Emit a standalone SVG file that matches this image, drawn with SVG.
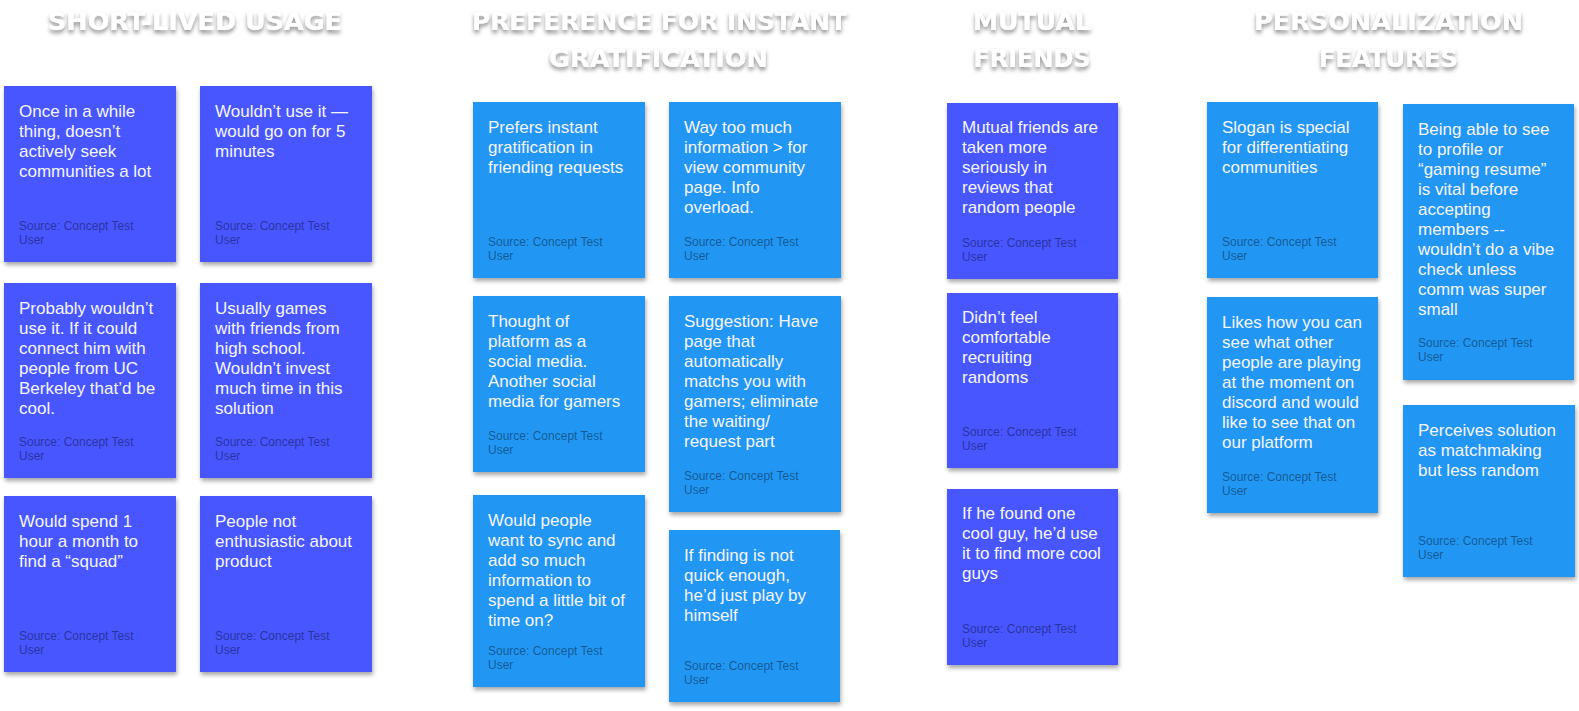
<svg xmlns="http://www.w3.org/2000/svg" width="1579" height="711" viewBox="0 0 1579 711">
<defs>
<filter id="sh" x="-10%" y="-10%" width="125%" height="125%">
<feDropShadow dx="1" dy="3" stdDeviation="2" flood-color="#000" flood-opacity="0.35"/>
</filter>
<filter id="hs" x="-10%" y="-30%" width="120%" height="180%">
<feDropShadow dx="0" dy="3" stdDeviation="2" flood-color="#000" flood-opacity="0.45"/>
</filter>
</defs>
<style>
.bg{fill:#ffffff}
.dk{fill:#4657FF}
.lt{fill:#2196F3}
.t{font-family:"Liberation Sans",Arial,sans-serif;font-size:17px;fill:#f5f5ff}
.s{font-family:"Liberation Sans",Arial,sans-serif;font-size:12px;fill:#000;fill-opacity:0.42}
.h{font-family:"DejaVu Sans",sans-serif;font-weight:bold;font-size:25px;fill:#ffffff;text-anchor:middle;filter:url(#hs)}
</style>
<rect class="bg" x="0" y="0" width="1579" height="711"/>

<g id="headers">
<text class="h" x="195" y="30" textLength="294" lengthAdjust="spacingAndGlyphs">SHORT-LIVED USAGE</text>
<text class="h" x="659.5" y="30" textLength="375" lengthAdjust="spacingAndGlyphs">PREFERENCE FOR INSTANT</text>
<text class="h" x="658.5" y="67" textLength="219" lengthAdjust="spacingAndGlyphs">GRATIFICATION</text>
<text class="h" x="1032" y="30" textLength="118" lengthAdjust="spacingAndGlyphs">MUTUAL</text>
<text class="h" x="1032" y="67" textLength="117" lengthAdjust="spacingAndGlyphs">FRIENDS</text>
<text class="h" x="1388.5" y="30" textLength="269" lengthAdjust="spacingAndGlyphs">PERSONALIZATION</text>
<text class="h" x="1388.5" y="67" textLength="139" lengthAdjust="spacingAndGlyphs">FEATURES</text>
</g>

<g id="connectors"></g>

<g id="a1"><rect class="dk" x="4" y="86" width="172" height="176" filter="url(#sh)"/>
<text class="t" x="19" y="117"><tspan x="19">Once in a while</tspan><tspan x="19" dy="20">thing, doesn’t</tspan><tspan x="19" dy="20">actively seek</tspan><tspan x="19" dy="20">communities a lot</tspan></text>
<text class="s" x="19" y="230"><tspan x="19">Source: Concept Test</tspan><tspan x="19" dy="14">User</tspan></text></g>

<g id="b1"><rect class="dk" x="200" y="86" width="172" height="176" filter="url(#sh)"/>
<text class="t" x="215" y="117"><tspan x="215">Wouldn’t use it —</tspan><tspan x="215" dy="20">would go on for 5</tspan><tspan x="215" dy="20">minutes</tspan></text>
<text class="s" x="215" y="230"><tspan x="215">Source: Concept Test</tspan><tspan x="215" dy="14">User</tspan></text></g>

<g id="a2"><rect class="dk" x="4" y="283" width="172" height="195" filter="url(#sh)"/>
<text class="t" x="19" y="314"><tspan x="19">Probably wouldn’t</tspan><tspan x="19" dy="20">use it. If it could</tspan><tspan x="19" dy="20">connect him with</tspan><tspan x="19" dy="20">people from UC</tspan><tspan x="19" dy="20">Berkeley that’d be</tspan><tspan x="19" dy="20">cool.</tspan></text>
<text class="s" x="19" y="446"><tspan x="19">Source: Concept Test</tspan><tspan x="19" dy="14">User</tspan></text></g>

<g id="b2"><rect class="dk" x="200" y="283" width="172" height="195" filter="url(#sh)"/>
<text class="t" x="215" y="314"><tspan x="215">Usually games</tspan><tspan x="215" dy="20">with friends from</tspan><tspan x="215" dy="20">high school.</tspan><tspan x="215" dy="20">Wouldn’t invest</tspan><tspan x="215" dy="20">much time in this</tspan><tspan x="215" dy="20">solution</tspan></text>
<text class="s" x="215" y="446"><tspan x="215">Source: Concept Test</tspan><tspan x="215" dy="14">User</tspan></text></g>

<g id="a3"><rect class="dk" x="4" y="496" width="172" height="176" filter="url(#sh)"/>
<text class="t" x="19" y="527"><tspan x="19">Would spend 1</tspan><tspan x="19" dy="20">hour a month to</tspan><tspan x="19" dy="20">find a “squad”</tspan></text>
<text class="s" x="19" y="640"><tspan x="19">Source: Concept Test</tspan><tspan x="19" dy="14">User</tspan></text></g>

<g id="b3"><rect class="dk" x="200" y="496" width="172" height="176" filter="url(#sh)"/>
<text class="t" x="215" y="527"><tspan x="215">People not</tspan><tspan x="215" dy="20">enthusiastic about</tspan><tspan x="215" dy="20">product</tspan></text>
<text class="s" x="215" y="640"><tspan x="215">Source: Concept Test</tspan><tspan x="215" dy="14">User</tspan></text></g>

<g id="c1"><rect class="lt" x="473" y="102" width="172" height="176" filter="url(#sh)"/>
<text class="t" x="488" y="133"><tspan x="488">Prefers instant</tspan><tspan x="488" dy="20">gratification in</tspan><tspan x="488" dy="20">friending requests</tspan></text>
<text class="s" x="488" y="246"><tspan x="488">Source: Concept Test</tspan><tspan x="488" dy="14">User</tspan></text></g>

<g id="d1"><rect class="lt" x="669" y="102" width="172" height="176" filter="url(#sh)"/>
<text class="t" x="684" y="133"><tspan x="684">Way too much</tspan><tspan x="684" dy="20">information &gt; for</tspan><tspan x="684" dy="20">view community</tspan><tspan x="684" dy="20">page. Info</tspan><tspan x="684" dy="20">overload.</tspan></text>
<text class="s" x="684" y="246"><tspan x="684">Source: Concept Test</tspan><tspan x="684" dy="14">User</tspan></text></g>

<g id="c2"><rect class="lt" x="473" y="296" width="172" height="176" filter="url(#sh)"/>
<text class="t" x="488" y="327"><tspan x="488">Thought of</tspan><tspan x="488" dy="20">platform as a</tspan><tspan x="488" dy="20">social media.</tspan><tspan x="488" dy="20">Another social</tspan><tspan x="488" dy="20">media for gamers</tspan></text>
<text class="s" x="488" y="440"><tspan x="488">Source: Concept Test</tspan><tspan x="488" dy="14">User</tspan></text></g>

<g id="d2"><rect class="lt" x="669" y="296" width="172" height="216" filter="url(#sh)"/>
<text class="t" x="684" y="327"><tspan x="684">Suggestion: Have</tspan><tspan x="684" dy="20">page that</tspan><tspan x="684" dy="20">automatically</tspan><tspan x="684" dy="20">matchs you with</tspan><tspan x="684" dy="20">gamers; eliminate</tspan><tspan x="684" dy="20">the waiting/</tspan><tspan x="684" dy="20">request part</tspan></text>
<text class="s" x="684" y="480"><tspan x="684">Source: Concept Test</tspan><tspan x="684" dy="14">User</tspan></text></g>

<g id="c3"><rect class="lt" x="473" y="495" width="172" height="192" filter="url(#sh)"/>
<text class="t" x="488" y="526"><tspan x="488">Would people</tspan><tspan x="488" dy="20">want to sync and</tspan><tspan x="488" dy="20">add so much</tspan><tspan x="488" dy="20">information to</tspan><tspan x="488" dy="20">spend a little bit of</tspan><tspan x="488" dy="20">time on?</tspan></text>
<text class="s" x="488" y="655"><tspan x="488">Source: Concept Test</tspan><tspan x="488" dy="14">User</tspan></text></g>

<g id="d3"><rect class="lt" x="669" y="530" width="171" height="172" filter="url(#sh)"/>
<text class="t" x="684" y="561"><tspan x="684">If finding is not</tspan><tspan x="684" dy="20">quick enough,</tspan><tspan x="684" dy="20">he’d just play by</tspan><tspan x="684" dy="20">himself</tspan></text>
<text class="s" x="684" y="670"><tspan x="684">Source: Concept Test</tspan><tspan x="684" dy="14">User</tspan></text></g>

<g id="e1"><rect class="dk" x="947" y="103" width="171" height="176" filter="url(#sh)"/>
<text class="t" x="962" y="133"><tspan x="962">Mutual friends are</tspan><tspan x="962" dy="20">taken more</tspan><tspan x="962" dy="20">seriously in</tspan><tspan x="962" dy="20">reviews that</tspan><tspan x="962" dy="20">random people</tspan></text>
<text class="s" x="962" y="247"><tspan x="962">Source: Concept Test</tspan><tspan x="962" dy="14">User</tspan></text></g>

<g id="e2"><rect class="dk" x="947" y="293" width="171" height="175" filter="url(#sh)"/>
<text class="t" x="962" y="323"><tspan x="962">Didn’t feel</tspan><tspan x="962" dy="20">comfortable</tspan><tspan x="962" dy="20">recruiting</tspan><tspan x="962" dy="20">randoms</tspan></text>
<text class="s" x="962" y="436"><tspan x="962">Source: Concept Test</tspan><tspan x="962" dy="14">User</tspan></text></g>

<g id="e3"><rect class="dk" x="947" y="489" width="171" height="176" filter="url(#sh)"/>
<text class="t" x="962" y="519"><tspan x="962">If he found one</tspan><tspan x="962" dy="20">cool guy, he’d use</tspan><tspan x="962" dy="20">it to find more cool</tspan><tspan x="962" dy="20">guys</tspan></text>
<text class="s" x="962" y="633"><tspan x="962">Source: Concept Test</tspan><tspan x="962" dy="14">User</tspan></text></g>

<g id="f1"><rect class="lt" x="1207" y="102" width="171" height="176" filter="url(#sh)"/>
<text class="t" x="1222" y="133"><tspan x="1222">Slogan is special</tspan><tspan x="1222" dy="20">for differentiating</tspan><tspan x="1222" dy="20">communities</tspan></text>
<text class="s" x="1222" y="246"><tspan x="1222">Source: Concept Test</tspan><tspan x="1222" dy="14">User</tspan></text></g>

<g id="f2"><rect class="lt" x="1207" y="297" width="171" height="216" filter="url(#sh)"/>
<text class="t" x="1222" y="328"><tspan x="1222">Likes how you can</tspan><tspan x="1222" dy="20">see what other</tspan><tspan x="1222" dy="20">people are playing</tspan><tspan x="1222" dy="20">at the moment on</tspan><tspan x="1222" dy="20">discord and would</tspan><tspan x="1222" dy="20">like to see that on</tspan><tspan x="1222" dy="20">our platform</tspan></text>
<text class="s" x="1222" y="481"><tspan x="1222">Source: Concept Test</tspan><tspan x="1222" dy="14">User</tspan></text></g>

<g id="g1"><rect class="lt" x="1403" y="104" width="171" height="276" filter="url(#sh)"/>
<text class="t" x="1418" y="135"><tspan x="1418">Being able to see</tspan><tspan x="1418" dy="20">to profile or</tspan><tspan x="1418" dy="20">“gaming resume”</tspan><tspan x="1418" dy="20">is vital before</tspan><tspan x="1418" dy="20">accepting</tspan><tspan x="1418" dy="20">members --</tspan><tspan x="1418" dy="20">wouldn’t do a vibe</tspan><tspan x="1418" dy="20">check unless</tspan><tspan x="1418" dy="20">comm was super</tspan><tspan x="1418" dy="20">small</tspan></text>
<text class="s" x="1418" y="347"><tspan x="1418">Source: Concept Test</tspan><tspan x="1418" dy="14">User</tspan></text></g>

<g id="g2"><rect class="lt" x="1403" y="405" width="172" height="172" filter="url(#sh)"/>
<text class="t" x="1418" y="436"><tspan x="1418">Perceives solution</tspan><tspan x="1418" dy="20">as matchmaking</tspan><tspan x="1418" dy="20">but less random</tspan></text>
<text class="s" x="1418" y="545"><tspan x="1418">Source: Concept Test</tspan><tspan x="1418" dy="14">User</tspan></text></g>
</svg>
